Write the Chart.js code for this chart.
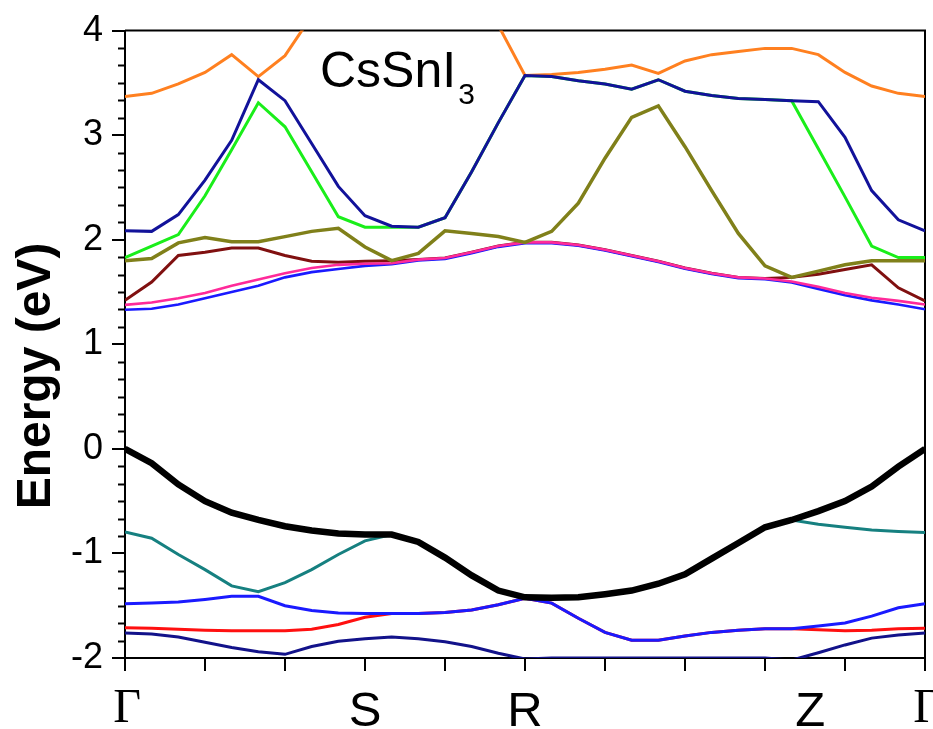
<!DOCTYPE html>
<html>
<head>
<meta charset="utf-8">
<script src="https://cdn.jsdelivr.net/npm/chart.js@4.4.0/dist/chart.umd.min.js"></script>
<style>
  body { margin: 0; background: #fff; }
  canvas { display: block; }
</style>
</head>
<body>
<canvas id="bands" width="933" height="729"></canvas>
<script>
// k-path grid (point index along Γ-S-R-Z-Γ)
const kPoints = [0, 1, 2, 3, 4, 5, 6, 7, 8, 9, 10, 11, 12, 13, 14, 15, 16, 17, 18, 19, 20, 21, 22, 23, 24, 25, 26, 27, 28, 29, 30];

// high symmetry points
const kLabels = ['\u0393', 'S', 'R', 'Z', '\u0393'];
const kLabelPos = [0, 9, 15, 25.7, 30];

// energy ticks
const yTicks = [-2, -1, 0, 1, 2, 3, 4];

// conduction bands (eV)
const bandOrange = [3.37, 3.40, 3.49, 3.60, 3.77, 3.56, 3.76, 4.14, 4.35, 4.50, 4.60, 4.60, 4.50, 4.30, 4.05, 3.57, 3.58, 3.60, 3.63, 3.67, 3.59, 3.71, 3.77, 3.80, 3.83, 3.83, 3.77, 3.60, 3.47, 3.40, 3.37];
const bandNavyUp = [2.085, 2.08, 2.24, 2.57, 2.95, 3.53, 3.33, 2.92, 2.51, 2.23, 2.13, 2.12, 2.21, 2.65, 3.12, 3.57, 3.56, 3.52, 3.49, 3.44, 3.53, 3.42, 3.38, 3.35, 3.34, 3.33, 3.32, 2.98, 2.47, 2.19, 2.085];
const bandGreen = [1.83, 1.94, 2.05, 2.42, 2.86, 3.31, 3.08, 2.65, 2.22, 2.12, 2.12, 2.12, 2.21, 2.65, 3.12, 3.57, 3.56, 3.52, 3.49, 3.44, 3.53, 3.42, 3.38, 3.35, 3.34, 3.33, 2.87, 2.41, 1.94, 1.83, 1.83];
const bandOlive = [1.80, 1.82, 1.97, 2.02, 1.98, 1.98, 2.03, 2.08, 2.11, 1.93, 1.80, 1.87, 2.085, 2.06, 2.03, 1.975, 2.08, 2.35, 2.78, 3.17, 3.28, 2.89, 2.47, 2.06, 1.75, 1.64, 1.70, 1.76, 1.80, 1.80, 1.80];
const bandMaroon = [1.42, 1.595, 1.85, 1.88, 1.92, 1.92, 1.85, 1.795, 1.785, 1.795, 1.80, 1.81, 1.825, 1.88, 1.94, 1.975, 1.975, 1.95, 1.905, 1.85, 1.795, 1.73, 1.68, 1.64, 1.63, 1.64, 1.67, 1.715, 1.76, 1.54, 1.415];
const bandPink = [1.377, 1.40, 1.44, 1.49, 1.56, 1.62, 1.68, 1.73, 1.76, 1.77, 1.775, 1.81, 1.825, 1.88, 1.94, 1.975, 1.975, 1.95, 1.905, 1.85, 1.795, 1.73, 1.68, 1.64, 1.63, 1.60, 1.55, 1.49, 1.445, 1.415, 1.38];
const bandBlueUp = [1.33, 1.34, 1.38, 1.44, 1.50, 1.56, 1.64, 1.69, 1.72, 1.75, 1.767, 1.802, 1.817, 1.872, 1.932, 1.967, 1.967, 1.942, 1.897, 1.842, 1.787, 1.722, 1.672, 1.632, 1.622, 1.592, 1.53, 1.47, 1.42, 1.38, 1.335];

// valence bands (eV)
const bandBlack = [0, -0.137, -0.34, -0.50, -0.61, -0.68, -0.74, -0.78, -0.81, -0.82, -0.82, -0.89, -1.04, -1.21, -1.355, -1.42, -1.425, -1.42, -1.39, -1.355, -1.29, -1.20, -1.05, -0.90, -0.75, -0.68, -0.595, -0.50, -0.36, -0.17, 0];
const bandTeal = [-0.795, -0.855, -1.01, -1.155, -1.31, -1.365, -1.28, -1.155, -1.01, -0.88, -0.82, -0.89, -1.04, -1.21, -1.355, -1.42, -1.425, -1.42, -1.39, -1.355, -1.29, -1.20, -1.05, -0.90, -0.75, -0.68, -0.72, -0.75, -0.775, -0.79, -0.80];
const bandBlueLow = [-1.48, -1.475, -1.465, -1.44, -1.41, -1.41, -1.50, -1.545, -1.57, -1.575, -1.575, -1.575, -1.565, -1.54, -1.49, -1.43, -1.475, -1.62, -1.755, -1.83, -1.83, -1.79, -1.755, -1.735, -1.72, -1.72, -1.695, -1.665, -1.60, -1.52, -1.48];
const bandRed = [-1.71, -1.715, -1.725, -1.735, -1.74, -1.74, -1.74, -1.725, -1.68, -1.61, -1.575, -1.575, -1.565, -1.54, -1.49, -1.43, -1.475, -1.62, -1.755, -1.83, -1.83, -1.79, -1.755, -1.735, -1.72, -1.72, -1.73, -1.74, -1.735, -1.72, -1.715];
const bandNavyLow = [-1.76, -1.77, -1.80, -1.85, -1.90, -1.94, -1.965, -1.89, -1.84, -1.815, -1.80, -1.815, -1.845, -1.89, -1.955, -2.01, -2.0, -2.0, -2.0, -2.0, -2.0, -2.0, -2.0, -2.0, -2.0, -2.02, -1.95, -1.875, -1.81, -1.78, -1.76];

// first entry is drawn on top
const bands = [
  { data: bandBlack, color: '#000000', width: 6.5 },
  { data: bandOlive, color: '#80801a', width: 3.5 },
  { data: bandNavyUp, color: '#12129a', width: 3 },
  { data: bandOrange, color: '#ff8020', width: 3 },
  { data: bandGreen, color: '#1aee1a', width: 3 },
  { data: bandPink, color: '#ff2a9a', width: 2.6 },
  { data: bandBlueUp, color: '#1a1aff', width: 2.6 },
  { data: bandMaroon, color: '#801010', width: 3 },
  { data: bandBlueLow, color: '#1a1aff', width: 3 },
  { data: bandRed, color: '#ff1010', width: 3 },
  { data: bandTeal, color: '#168080', width: 3 },
  { data: bandNavyLow, color: '#12128a', width: 3 }
];

const datasets = bands.map(b => ({
  data: kPoints.map((k, i) => ({ x: k, y: b.data[i] })),
  borderColor: b.color,
  borderWidth: b.width,
  pointRadius: 0,
  tension: 0,
  fill: false
}));

// frame, minor ticks and texts
const decorPlugin = {
  id: 'decor',
  beforeDatasetsDraw(chart) {
    const { ctx, chartArea: a, scales: { y } } = chart;
    ctx.save();
    ctx.strokeStyle = '#000';
    ctx.lineWidth = 2;
    ctx.beginPath();
    ctx.moveTo(a.left, a.top);
    ctx.lineTo(a.right, a.top);
    ctx.lineTo(a.right, a.bottom);
    ctx.stroke();
    // minor ticks every 1/6 eV
    for (let i = -12; i <= 24; i++) {
      if (i % 6 === 0) continue;
      const py = Math.round(y.getPixelForValue(i / 6)) + 0.5;
      ctx.beginPath();
      ctx.moveTo(a.left - 7, py);
      ctx.lineTo(a.left, py);
      ctx.stroke();
    }
    ctx.restore();
  },
  afterDraw(chart) {
    const { ctx, scales: { x } } = chart;
    ctx.save();
    ctx.fillStyle = '#000';
    ctx.textAlign = 'center';
    ctx.textBaseline = 'alphabetic';
    kLabels.forEach((lab, i) => {
      const px = x.getPixelForValue(kLabelPos[i]);
      if (lab === '\u0393') {
        ctx.font = '48px "Liberation Serif", "Times New Roman", serif';
        ctx.fillText(lab, px + 2, 722);
      } else {
        ctx.font = '49px "Liberation Sans", Arial, sans-serif';
        ctx.fillText(lab, px, 726);
      }
    });

    // title
    ctx.textAlign = 'left';
    ctx.font = '50px "Liberation Sans", Arial, sans-serif';
    ctx.fillText('CsSnI', 320, 87);
    const w = ctx.measureText('CsSnI').width;
    ctx.font = '30px "Liberation Sans", Arial, sans-serif';
    ctx.fillText('3', 320 + w + 2, 104);

    // y axis title
    ctx.translate(50, 376);
    ctx.rotate(-Math.PI / 2);
    ctx.textAlign = 'center';
    ctx.font = 'bold 48px "Liberation Sans", Arial, sans-serif';
    ctx.fillText('Energy (eV)', 0, 0);
    ctx.restore();
  }
};

new Chart(document.getElementById('bands'), {
  type: 'line',
  data: { datasets },
  options: {
    responsive: false,
    animation: false,
    events: [],
    layout: { padding: { top: 25, right: 8, left: 0, bottom: 0 } },
    plugins: { legend: { display: false }, tooltip: { enabled: false } },
    scales: {
      x: {
        type: 'linear',
        min: 0,
        max: 30,
        afterFit: s => { s.height = 71; },
        ticks: { stepSize: 3, callback: () => '', font: { size: 10 } },
        grid: { drawOnChartArea: false, drawTicks: true, tickLength: 13, color: '#000', lineWidth: 2 },
        border: { color: '#000', width: 2 }
      },
      y: {
        min: -2,
        max: 4,
        afterFit: s => { s.width = 125; },
        afterBuildTicks: s => { s.ticks = yTicks.map(v => ({ value: v })); },
        ticks: {
          color: '#000',
          padding: 9,
          font: { size: 36, family: '"Liberation Sans", Arial, sans-serif' }
        },
        grid: { drawOnChartArea: false, drawTicks: true, tickLength: 13, color: '#000', lineWidth: 2 },
        border: { color: '#000', width: 2 }
      }
    }
  },
  plugins: [decorPlugin]
});
</script>
</body>
</html>
